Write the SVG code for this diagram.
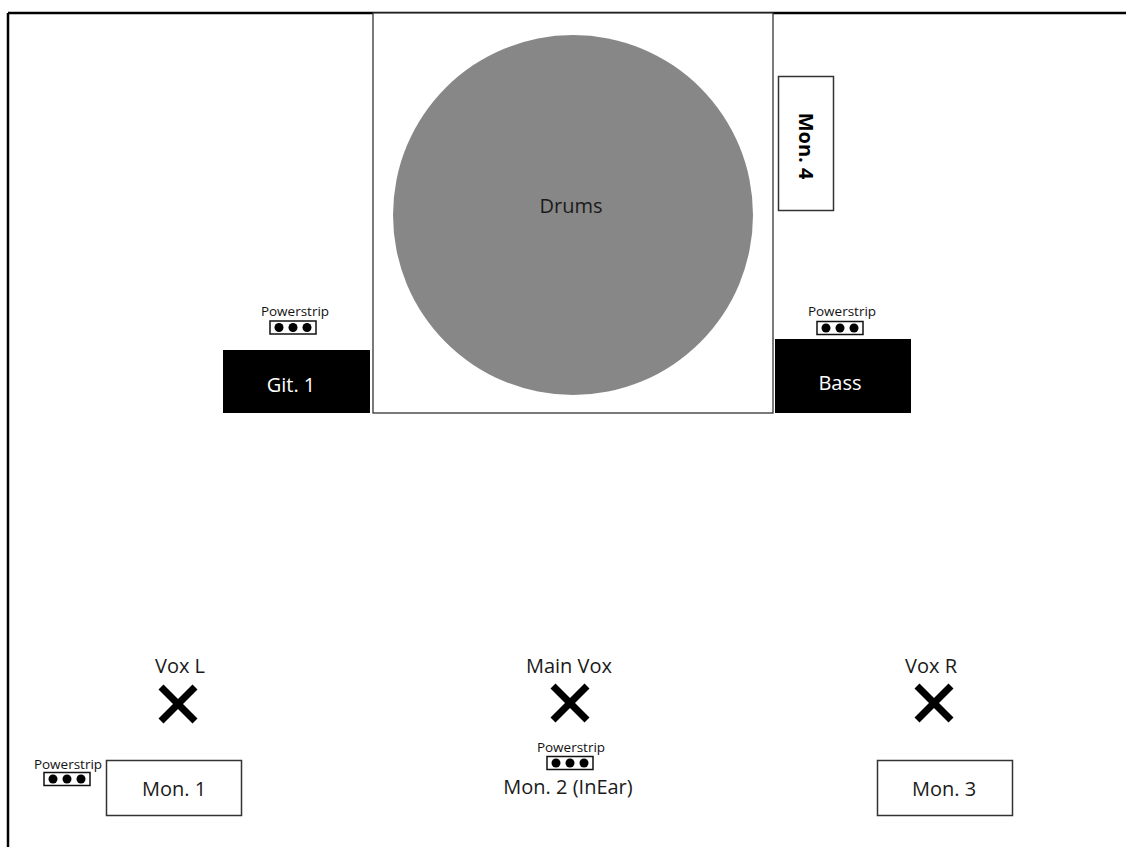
<svg xmlns="http://www.w3.org/2000/svg" width="1126" height="847" viewBox="0 0 1126 847">
<style>
text{font-family:"Open Sans","Liberation Sans",sans-serif;}
.lbl{font-size:20px;fill:#1a1a1a;text-anchor:middle;}
.wlbl{font-size:20px;fill:#fff;text-anchor:middle;}
.ps{font-size:13.5px;fill:#111;text-anchor:middle;}
.psbox{fill:#fff;stroke:#111;stroke-width:1.5;}
.dot{fill:#000;}
.mon{fill:#fff;stroke:#333;stroke-width:1.5;}
.amp{fill:#000;}
.x{stroke:#000;stroke-width:7;stroke-linecap:butt;}
</style>
<defs>
<g id="strip">
<rect class="psbox" x="-23" y="-6.5" width="46" height="13"/>
<circle class="dot" cx="-14" cy="0" r="4.5"/>
<circle class="dot" cx="0" cy="0" r="4.5"/>
<circle class="dot" cx="14" cy="0" r="4.5"/>
</g>
<g id="xmark">
<line class="x" x1="-17" y1="-17" x2="17" y2="17"/>
<line class="x" x1="17" y1="-17" x2="-17" y2="17"/>
</g>
</defs>
<rect width="1126" height="847" fill="#fff"/>
<g id="frame">
<line x1="8" y1="13" x2="1126" y2="13" stroke="#000" stroke-width="2.5"/>
<line x1="8" y1="13" x2="8" y2="847" stroke="#000" stroke-width="2.5"/>
</g>
<g id="riser">
<rect x="373" y="13" width="400" height="400" fill="#fff" stroke="#333" stroke-width="1.3"/>
</g>
<g id="drums">
<circle cx="573" cy="215" r="180" fill="#878787"/>
<text class="lbl" x="571" y="213">Drums</text>
</g>
<g id="mon4">
<rect class="mon" x="778.5" y="76.5" width="55" height="134" stroke-width="2"/>
<text x="806" y="146" font-size="20" font-weight="bold" fill="#000" text-anchor="middle" dominant-baseline="central" transform="rotate(90 806 146)">Mon. 4</text>
</g>
<g id="git1">
<rect class="amp" x="223" y="350" width="147" height="63"/>
<text class="wlbl" x="291" y="392">Git. 1</text>
</g>
<g id="bass">
<rect class="amp" x="775" y="339" width="136" height="74"/>
<text class="wlbl" x="840" y="390">Bass</text>
</g>
<g id="ps-git">
<text class="ps" x="295" y="316">Powerstrip</text>
<use href="#strip" x="293" y="327.5"/>
</g>
<g id="ps-bass">
<text class="ps" x="842" y="316">Powerstrip</text>
<use href="#strip" x="840" y="328"/>
</g>
<g id="voxl">
<text class="lbl" x="180" y="673">Vox L</text>
<use href="#xmark" x="178" y="704"/>
</g>
<g id="mainvox">
<text class="lbl" x="569" y="673">Main Vox</text>
<use href="#xmark" x="570" y="703"/>
</g>
<g id="voxr">
<text class="lbl" x="931" y="673">Vox R</text>
<use href="#xmark" x="934" y="703"/>
</g>
<g id="ps-left">
<text class="ps" x="68" y="769">Powerstrip</text>
<use href="#strip" x="67" y="779"/>
</g>
<g id="mon1">
<rect class="mon" x="106.5" y="760.5" width="135" height="55"/>
<text class="lbl" x="174" y="796">Mon. 1</text>
</g>
<g id="ps-mon2">
<text class="ps" x="571" y="752" font-size="13">Powerstrip</text>
<use href="#strip" x="570" y="763"/>
</g>
<g id="mon2">
<text class="lbl" x="568" y="794">Mon. 2 (InEar)</text>
</g>
<g id="mon3">
<rect class="mon" x="877.5" y="760.5" width="135" height="55"/>
<text class="lbl" x="944" y="796">Mon. 3</text>
</g>
</svg>
